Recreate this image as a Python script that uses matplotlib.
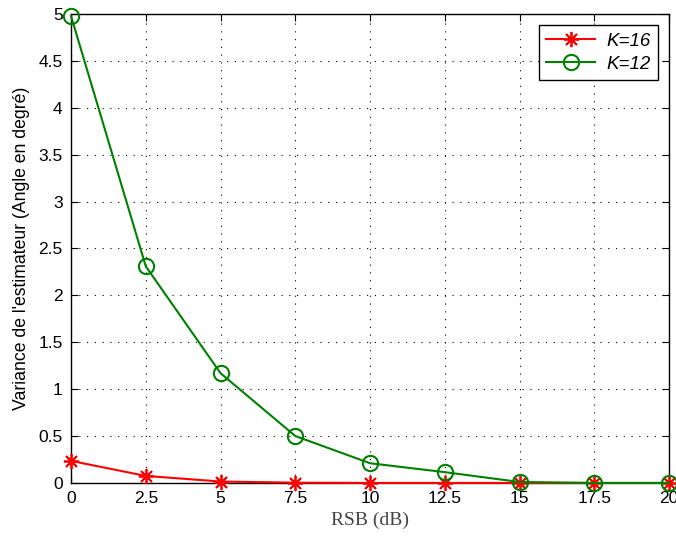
import numpy as np
import matplotlib
matplotlib.use("Agg")
import matplotlib.pyplot as plt

rsb = [0, 2.5, 5, 7.5, 10, 12.5, 15, 17.5, 20]
var_k16 = [0.235, 0.075, 0.015, 0.003, 0.0, 0.0, 0.0, 0.0, 0.0]
var_k12 = [4.98, 2.31, 1.17, 0.50, 0.21, 0.115, 0.01, 0.0, 0.0]
xticks = [0, 2.5, 5, 7.5, 10, 12.5, 15, 17.5, 20]
xtick_labels = ["0", "2.5", "5", "7.5", "10", "12.5", "15", "17.5", "20"]
yticks = [0, 0.5, 1, 1.5, 2, 2.5, 3, 3.5, 4, 4.5, 5]
ytick_labels = ["0", "0.5", "1", "1.5", "2", "2.5", "3", "3.5", "4", "4.5", "5"]

plt.rcParams["font.family"] = ["Liberation Sans", "DejaVu Sans"]

fig = plt.figure(figsize=(6.76, 5.39), dpi=100)
ax = fig.add_axes([0.105, 0.104, 0.885, 0.870])

# asterisk like matlab '*'
ax.plot(rsb, var_k16, color="red", marker=(8, 2, 0), markersize=11, markeredgewidth=1.3,
        linewidth=1.5, label="K=16", clip_on=False, zorder=3)
ax.plot(rsb, var_k12, color="#008000", marker="o", markersize=11, markerfacecolor="none",
        markeredgewidth=1.5, linewidth=1.5, label="K=12", clip_on=False, zorder=3)

ax.set_xlim(0, 20)
ax.set_ylim(0, 5)
ax.set_xticks(xticks)
ax.set_xticklabels(xtick_labels)
ax.set_yticks(yticks)
ax.set_yticklabels(ytick_labels)
ax.tick_params(direction="in", top=True, right=True, labelsize=12.5, length=5, width=0.8, pad=6)
ax.grid(True, color="black", linestyle=(0, (1, 6)), linewidth=0.8)
for s in ax.spines.values():
    s.set_linewidth(1.0)

ax.set_xlabel("RSB (dB)", family="Liberation Serif", fontsize=14, color="#444444", labelpad=4)
ax.set_ylabel("Variance de l'estimateur (Angle en degré)", fontsize=12.7, labelpad=6)

leg = ax.legend(loc="upper right", fancybox=False, edgecolor="black",
                framealpha=1, handlelength=2.6, borderaxespad=0.6, labelspacing=0.3,
                handletextpad=0.6, prop={"style": "italic", "size": 13.5})
leg.get_frame().set_linewidth(1.0)

fig.savefig("out.png", dpi=100)
